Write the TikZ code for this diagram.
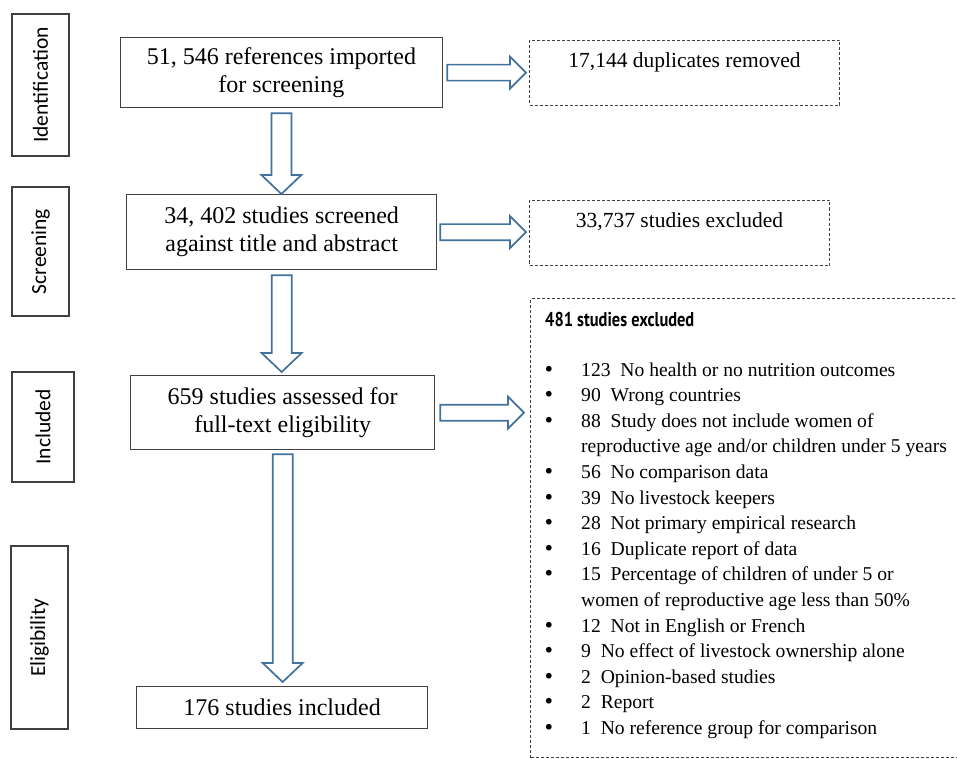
\documentclass[tikz,border=0pt]{standalone}
\usepackage{fontspec}
\setmainfont{Liberation Serif}
\newfontfamily\stagefont{Carlito}
\newfontfamily\headfont[FakeStretch=0.82]{PT Sans}
\newfontfamily\bulfont{DejaVu Sans}
\usetikzlibrary{calc}
\definecolor{arrowblue}{RGB}{65,113,156}
\definecolor{boxgray}{RGB}{64,64,64}
\newcommand{\bigbul}{{\bulfont\symbol{"2022}}}

\begin{document}
\begin{tikzpicture}[x=1pt,y=1pt,yscale=-1,
  stagebox/.style={draw=boxgray,line width=1.3pt,rotate=90,inner sep=0pt,font=\stagefont\fontsize{21.5}{26}\selectfont},
  mainbox/.style={draw=boxgray,line width=1.3pt,anchor=north west,inner sep=0pt,align=center,font=\fontsize{24}{28}\selectfont},
  exclbox/.style={draw=boxgray,line width=1pt,dash pattern=on 3pt off 2pt,anchor=north west,inner xsep=0pt,inner ysep=11.5pt,text height=16pt,text depth=26pt,font=\fontsize{21.5}{26}\selectfont},
  blockarrow/.style={draw=arrowblue,line width=1.7pt,fill=white,line join=miter}]
\useasboundingbox (0,0) rectangle (957,759);

%Stage labels (rotated, placed at centre)
\node[stagebox,minimum width=142pt,minimum height=57pt] (stageid) at (40.5,85) {Identification};
\node[stagebox,minimum width=129pt,minimum height=57pt] (stagescr) at (40.5,251.5) {Screening};
\node[stagebox,minimum width=110pt,minimum height=62pt] (stageinc) at (43,427) {Included};
\node[stagebox,minimum width=183pt,minimum height=57pt] (stageelig) at (39.5,637.5) {Eligibility};

%Shape: Rectangle
\node[mainbox,minimum width=322.5pt,minimum height=70pt] (imported) at (119.5,37) {51, 546 references imported\\for screening};
%Shape: Rectangle
\node[mainbox,minimum width=310pt,minimum height=75pt] (screened) at (126,194) {34, 402 studies screened\\against title and abstract};
%Shape: Rectangle
\node[mainbox,minimum width=304pt,minimum height=74pt] (assessed) at (130,375) {659 studies assessed for\\full-text eligibility};
%Shape: Rectangle
\node[mainbox,minimum width=291pt,minimum height=42pt] (final) at (136,686) {176 studies included};

%Dashed boxes
\node[exclbox,minimum width=310pt] (duplicates) at (529,40) {17,144 duplicates removed};
\node[exclbox,minimum width=300pt] (titleexcl) at (529,200) {33,737 studies excluded};
\node[draw=boxgray,line width=1pt,dash pattern=on 3pt off 2pt,anchor=north west,inner sep=0pt,minimum width=440pt,minimum height=459pt] (fulltextexcl) at (530,298) {};

% Text Node
\node[anchor=base west,inner sep=0pt,font=\headfont\bfseries\fontsize{20}{24}\selectfont] (exclhead) at (545,326) {481 studies excluded};
% Text Node
\node[anchor=base west,inner sep=0pt,font=\fontsize{19.6}{25.6}\selectfont] (excllist) at (543,376) {\begin{tabular}[t]{@{}p{38pt}@{}l@{}}
\bigbul & 123\ \ No health or no nutrition outcomes\\
\bigbul & 90\ \ Wrong countries\\
\bigbul & 88\ \ Study does not include women of\\
 & reproductive age and/or children under 5 years\\
\bigbul & 56\ \ No comparison data\\
\bigbul & 39\ \ No livestock keepers\\
\bigbul & 28\ \ Not primary empirical research\\
\bigbul & 16\ \ Duplicate report of data\\
\bigbul & 15\ \ Percentage of children of under 5 or\\
 & women of reproductive age less than 50\%\\
\bigbul & 12\ \ Not in English or French\\
\bigbul & 9\ \ No effect of livestock ownership alone\\
\bigbul & 2\ \ Opinion-based studies\\
\bigbul & 2\ \ Report\\
\bigbul & 1\ \ No reference group for comparison
\end{tabular}};

%Down Arrow
\coordinate (d1s) at ($(imported.south)+(0,5)$);
\coordinate (d1e) at (d1s |- screened.north);
\draw[blockarrow] ($(d1s)+(-10,0)$) -- ($(d1e)+(-10,-19)$) -- ($(d1e)+(-20,-19)$) -- (d1e) -- ($(d1e)+(20,-19)$) -- ($(d1e)+(10,-19)$) -- ($(d1s)+(10,0)$) -- cycle;
%Down Arrow
\coordinate (d2s) at ($(screened.south)+(0,5)$);
\coordinate (d2e) at ($(d2s |- assessed.north)+(0,-3)$);
\draw[blockarrow] ($(d2s)+(-10,0)$) -- ($(d2e)+(-10,-19)$) -- ($(d2e)+(-20,-19)$) -- (d2e) -- ($(d2e)+(20,-19)$) -- ($(d2e)+(10,-19)$) -- ($(d2s)+(10,0)$) -- cycle;
%Down Arrow
\coordinate (d3s) at ($(assessed.south)+(0,4)$);
\coordinate (d3e) at ($(d3s |- final.north)+(0,-4)$);
\draw[blockarrow] ($(d3s)+(-10,0)$) -- ($(d3e)+(-10,-19)$) -- ($(d3e)+(-20,-19)$) -- (d3e) -- ($(d3e)+(20,-19)$) -- ($(d3e)+(10,-19)$) -- ($(d3s)+(10,0)$) -- cycle;

%Right Arrow
\coordinate (r1s) at ($(imported.east)+(4,0)$);
\coordinate (r1e) at ($(imported.east -| duplicates.west)+(-3,0)$);
\draw[blockarrow] ($(r1s)+(0,-8)$) -- ($(r1e)+(-16,-8)$) -- ($(r1e)+(-16,-16)$) -- (r1e) -- ($(r1e)+(-16,16)$) -- ($(r1e)+(-16,8)$) -- ($(r1s)+(0,8)$) -- cycle;
%Right Arrow
\coordinate (r2s) at ($(screened.east)+(3,0)$);
\coordinate (r2e) at ($(screened.east -| titleexcl.west)+(-3,0)$);
\draw[blockarrow] ($(r2s)+(0,-8)$) -- ($(r2e)+(-16,-8)$) -- ($(r2e)+(-16,-16)$) -- (r2e) -- ($(r2e)+(-16,16)$) -- ($(r2e)+(-16,8)$) -- ($(r2s)+(0,8)$) -- cycle;
%Right Arrow
\coordinate (r3s) at ($(assessed.east)+(5,0)$);
\coordinate (r3e) at ($(assessed.east -| fulltextexcl.west)+(-6,0)$);
\draw[blockarrow] ($(r3s)+(0,-8)$) -- ($(r3e)+(-16,-8)$) -- ($(r3e)+(-16,-16)$) -- (r3e) -- ($(r3e)+(-16,16)$) -- ($(r3e)+(-16,8)$) -- ($(r3s)+(0,8)$) -- cycle;

\end{tikzpicture}
\end{document}
